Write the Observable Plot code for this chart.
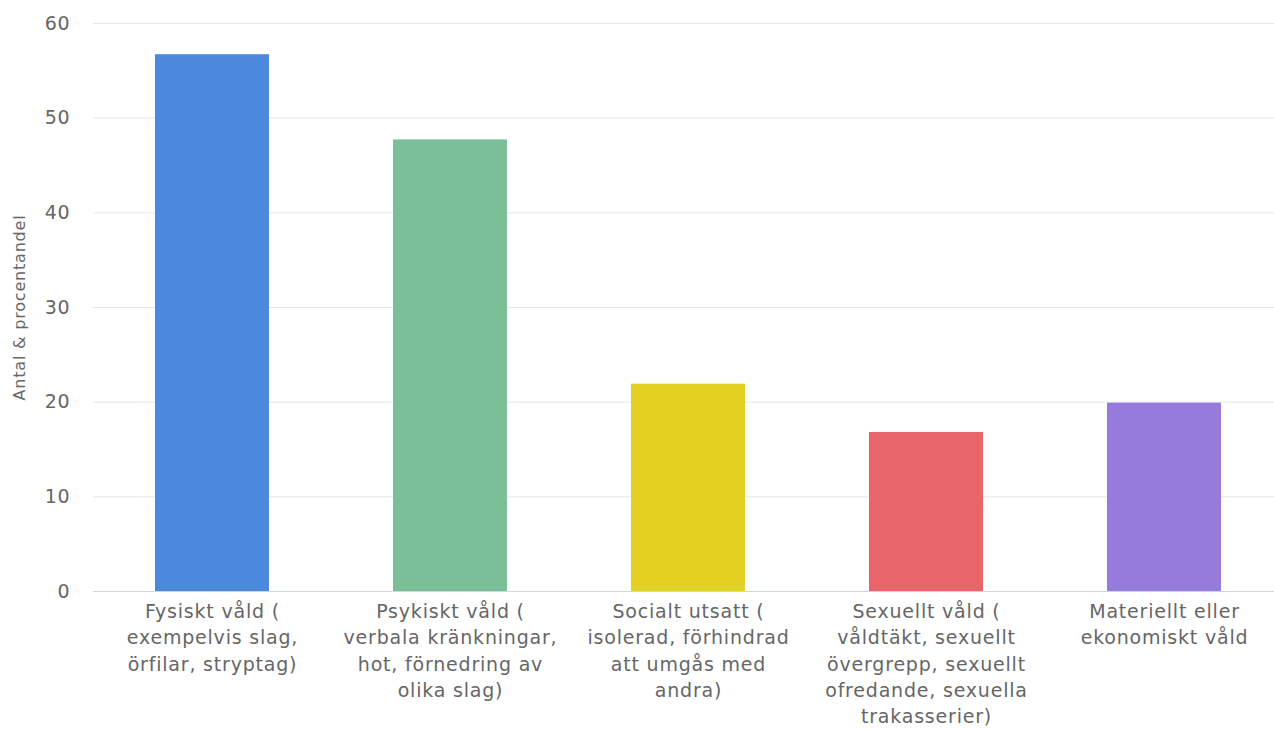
<!DOCTYPE html>
<html>
<head>
<meta charset="utf-8">
<script src="https://cdn.jsdelivr.net/npm/d3@7"></script>
<script src="https://cdn.jsdelivr.net/npm/@observablehq/plot@0.6"></script>
<style>
  html, body { margin: 0; padding: 0; background: #fff; }
  #chart svg { display: block; }
  #chart svg text { letter-spacing: 0.8px; }
</style>
</head>
<body>
<div id="chart"></div>
<script>
const categories = [
  "Fysiskt våld (\nexempelvis slag,\nörfilar, stryptag)",
  "Psykiskt våld (\nverbala kränkningar,\nhot, förnedring av\nolika slag)",
  "Socialt utsatt (\nisolerad, förhindrad\natt umgås med\nandra)",
  "Sexuellt våld (\nvåldtäkt, sexuellt\növergrepp, sexuellt\nofredande, sexuella\ntrakasserier)",
  "Materiellt eller\nekonomiskt våld"
];
const values = [56.7, 47.7, 21.9, 16.8, 19.9];
const colors = ["#4a89dc", "#7bbf99", "#e4d020", "#e8666a", "#967adc"];
const yTicks = [0, 10, 20, 30, 40, 50, 60];
const yTitle = "Antal & procentandel";

const data = categories.map((c, i) => ({category: c, value: values[i]}));

const chart = Plot.plot({
  width: 1274,
  height: 729,
  marginLeft: 93,
  marginRight: 0,
  marginTop: 23,
  marginBottom: 138,
  style: {fontFamily: "'DejaVu Sans', sans-serif", color: "#666666", background: "#ffffff"},
  x: {domain: categories, padding: 0, range: [92, 1284], label: null},
  y: {domain: [0, 60], label: null},
  color: {domain: categories, range: colors},
  marks: [
    Plot.gridY(yTicks, {stroke: "#e6e6e6", strokeOpacity: 1}),
    Plot.barY(data, {x: "category", y: "value", fill: "category", insetLeft: 62, insetRight: 62}),
    Plot.ruleY([0], {stroke: "#ccd6eb"}),
    Plot.axisY(yTicks, {tickSize: 0, tickPadding: 23, fontSize: 19, fill: "#666666", label: null}),
    Plot.axisX({tickSize: 0, tickPadding: 8, fontSize: 19, fill: "#666666", lineHeight: 1.38, label: null}),
    Plot.text([yTitle], {frameAnchor: "left", textAnchor: "middle", rotate: -90, dx: -74, fontSize: 16, fill: "#666666"})
  ]
});
document.getElementById("chart").appendChild(chart);
</script>
</body>
</html>
